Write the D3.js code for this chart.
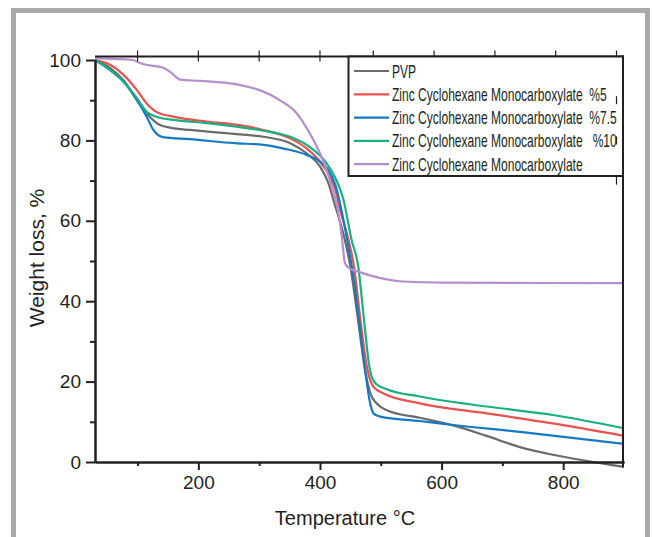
<!DOCTYPE html>
<meta charset="utf-8">
<head>
    <title>TGA curves</title>
    <script src="https://cdn.jsdelivr.net/npm/d3@7"></script>
    <style>
        body { margin: 0; background: #fff; }
        text { font-family: 'Liberation Sans', Arial, sans-serif; fill: #231f20; }
        .legend text { white-space: pre; }
    </style>
</head>
<body>
<div id="chart"></div>
<script>
    // data: temperature (°C) and weight (%)
    var pvpT = [30, 55, 77, 99, 120, 137, 160, 186, 230, 268, 307, 351, 378, 400, 414, 422, 441, 450, 462, 474, 483, 493, 510, 564, 619, 674, 729, 783, 838, 900];
    var pvpW = [100, 98, 95, 90, 85.9, 83.8, 83.0, 82.6, 82.0, 81.5, 80.9, 79.3, 76.8, 73.5, 69.3, 65.2, 55.2, 48.6, 36, 23, 17, 14.6, 12.9, 11.0, 9.1, 6.5, 3.7, 1.8, 0.3, -1.2];

    var zn5T = [30, 55, 77, 99, 115, 131, 159, 214, 268, 307, 351, 378, 400, 416, 427, 431, 447, 456, 466, 478, 488, 504, 564, 674, 783, 900];
    var zn5W = [100, 98.8, 96.3, 92.5, 89.2, 87.1, 85.9, 84.7, 83.8, 82.6, 80.5, 78, 74.7, 71, 66.8, 64, 55.2, 48.6, 36, 23, 18.7, 17.1, 14.6, 12.1, 9.6, 6.5];

    var zn75T = [30, 55, 77, 99, 115, 126, 142, 186, 260, 307, 351, 378, 400, 414, 425, 445, 456, 466, 475, 482, 488, 499, 564, 619, 729, 900];
    var zn75W = [100, 97.5, 94.6, 90, 85.9, 82.6, 80.8, 80.3, 79.3, 78.9, 77.6, 76.4, 74.7, 72.6, 69, 55, 45, 33, 22, 15, 12.1, 11.3, 10.2, 9.2, 7.5, 4.5];

    var zn10T = [30, 55, 77, 99, 115, 131, 159, 214, 268, 307, 351, 383, 411, 427, 438, 452, 463, 472, 482, 491, 510, 564, 674, 783, 900];
    var zn10W = [100, 97.5, 94.6, 90.5, 87.1, 85.9, 85.1, 84.3, 83.3, 82.4, 80.9, 78.4, 74.3, 70.1, 65.6, 55.2, 48.6, 36, 23, 19.6, 18.1, 16.3, 13.8, 11.7, 8.4];

    var znT = [30, 93, 100, 109, 145, 158, 170, 203, 268, 301, 334, 362, 383, 400, 411, 421, 426, 436, 441, 449, 458, 485, 536, 600, 900];
    var znW = [100.4, 100, 99.5, 99, 97.9, 96.5, 95.1, 94.8, 93.8, 92.5, 90, 86.7, 81.8, 76.8, 72.6, 67.7, 65.2, 56, 49.5, 48.1, 47.6, 46.3, 44.9, 44.6, 44.5];

    var seriesNames = ["PVP",
        "Zinc Cyclohexane Monocarboxylate  %5",
        "Zinc Cyclohexane Monocarboxylate  %7.5",
        "Zinc Cyclohexane Monocarboxylate   %10",
        "Zinc Cyclohexane Monocarboxylate"];
    var seriesColors = ["#6b6b6d", "#e9524d", "#1479c6", "#17b07f", "#b58fcd"];

    var xTicks = [200, 400, 600, 800];
    var xMinor = [100, 300, 500, 700];
    var yTicks = [0, 20, 40, 60, 80, 100];
    var yMinor = [10, 30, 50, 70, 90];

    var series = [[pvpT, pvpW], [zn5T, zn5W], [zn75T, zn75W], [zn10T, zn10W], [znT, znW]].map(function(s, i) {
        return { name: seriesNames[i], color: seriesColors[i],
                 values: s[0].map(function(t, j) { return { t: t, w: s[1][j] }; }) };
    });

    var w = 652, h = 537;
    var svg = d3.select("#chart").append("svg")
        .attr("width", w)
        .attr("height", h);

    // grey frame round the figure
    svg.append("rect")
        .attr("x", 13.5).attr("y", 10.5)
        .attr("width", 634).attr("height", 560)
        .attr("fill", "none")
        .attr("stroke", "#a7a9ac")
        .attr("stroke-width", 5);

    var x = d3.scaleLinear().domain([30, 900]).range([95, 624]);
    var y = d3.scaleLinear().domain([0, 100]).range([462, 60]);
    var ink = "#231f20";

    var line = d3.line()
        .x(function(d) { return x(d.t); })
        .y(function(d) { return y(d.w); })
        .curve(d3.curveMonotoneX);

    svg.selectAll(".curve")
        .data(series)
        .enter()
        .append("path")
        .attr("class", "curve")
        .attr("d", function(d) { return line(d.values); })
        .attr("fill", "none")
        .attr("stroke", function(d) { return d.color; })
        .attr("stroke-width", 2.2);

    // axes
    svg.append("g").attr("transform", "translate(0," + y(0) + ")")
        .call(d3.axisBottom(x).tickValues(xTicks).tickSize(8).tickPadding(6).tickSizeOuter(0));
    svg.append("g").attr("transform", "translate(0," + y(0) + ")")
        .call(d3.axisBottom(x).tickValues(xMinor).tickSize(4).tickFormat("").tickSizeOuter(0));

    svg.append("g").attr("transform", "translate(" + x(30) + ",0)")
        .call(d3.axisLeft(y).tickValues(yTicks).tickSize(9).tickPadding(5).tickSizeOuter(0));
    svg.append("g").attr("transform", "translate(" + x(30) + ",0)")
        .call(d3.axisLeft(y).tickValues(yMinor).tickSize(5).tickFormat("").tickSizeOuter(0));

    svg.selectAll(".domain, .tick line")
        .attr("stroke", ink)
        .attr("stroke-width", 2);
    svg.selectAll(".tick text")
        .attr("fill", ink)
        .style("font-size", "19px");

    // top and right frame lines
    var frameTop = 56.5;
    svg.append("line")
        .attr("x1", x(30)).attr("x2", x(900))
        .attr("y1", frameTop).attr("y2", frameTop)
        .attr("stroke", ink).attr("stroke-width", 2);
    svg.append("line")
        .attr("x1", x(900) - 1).attr("x2", x(900) - 1)
        .attr("y1", frameTop - 1).attr("y2", y(-1.3))
        .attr("stroke", ink).attr("stroke-width", 2);

    // top ticks (the right part of this frame is shifted a little in the original)
    var topTicks = [100, 200, 300, 400, 500, 600, 700, 800, 900];
    svg.selectAll(".topTick")
        .data(topTicks)
        .enter()
        .append("line")
        .attr("class", "topTick")
        .attr("x1", function(d) { return x(d) - (d > 400 ? 7.5 : 0); })
        .attr("x2", function(d) { return x(d) - (d > 400 ? 7.5 : 0); })
        .attr("y1", frameTop - 6).attr("y2", frameTop + 5)
        .attr("stroke", ink).attr("stroke-width", 1.2);

    // axis titles
    svg.append("text")
        .attr("x", 345).attr("y", 525)
        .attr("text-anchor", "middle")
        .style("font-size", "20px")
        .text("Temperature °C");
    svg.append("text")
        .attr("transform", "translate(44,258) rotate(-90)")
        .attr("text-anchor", "middle")
        .style("font-size", "21px")
        .text("Weight loss, %");

    // legend
    var legend = svg.append("g").attr("class", "legend");
    legend.append("rect")
        .attr("x", 348.5).attr("y", frameTop)
        .attr("width", x(900) - 1 - 348.5).attr("height", 119.5)
        .attr("fill", "#fff")
        .attr("stroke", ink).attr("stroke-width", 2);

    var rows = legend.selectAll(".row")
        .data(series)
        .enter()
        .append("g")
        .attr("class", "row")
        .attr("transform", function(d, i) { return "translate(354," + (71 + i * 23.3) + ")"; });
    rows.append("line")
        .attr("x1", 0).attr("x2", 35)
        .attr("stroke", function(d) { return d.color; })
        .attr("stroke-width", 2.2);
    var labels = rows.append("g")
        .attr("transform", "translate(38,6.5)")
        .append("text")
        .style("font-size", "18px")
        .text(function(d) { return d.name; });

    // the legend font is a narrow face: squeeze the text so the "%5" row is ~215px wide
    var refWidth = labels.filter(function(d, i) { return i == 1; }).node().getComputedTextLength();
    var squeeze = 215 / refWidth;
    labels.attr("transform", "scale(" + squeeze + ",1)");

    // stray pieces of the shifted right frame line
    [90, 80, 70].forEach(function(v) {
        svg.append("line")
            .attr("x1", x(900) - 7.5).attr("x2", x(900) - 7.5)
            .attr("y1", y(v) - 4).attr("y2", y(v) + 4)
            .attr("stroke", ink).attr("stroke-width", 1.2);
    });
</script>
</body>
